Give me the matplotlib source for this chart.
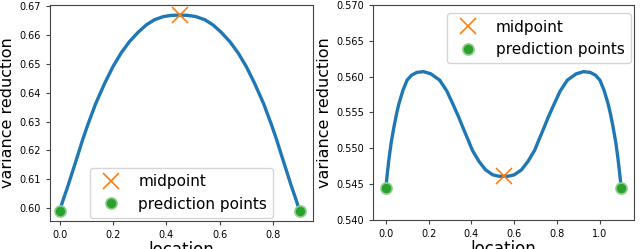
import matplotlib
matplotlib.use('Agg')
import matplotlib.pyplot as plt

# 左图: 两个预测点之间的方差降低
left_x = [0.0, 0.015, 0.031, 0.05, 0.069, 0.087, 0.106, 0.135, 0.169, 0.2,
          0.231, 0.262, 0.294, 0.325, 0.356, 0.39, 0.42, 0.45,
          0.48, 0.51, 0.544, 0.575, 0.606, 0.638, 0.669, 0.7, 0.731,
          0.765, 0.794, 0.813, 0.831, 0.85, 0.869, 0.885, 0.9]
left_y = [0.599, 0.6033, 0.6076, 0.6131, 0.6186, 0.6239, 0.6290, 0.6362, 0.6433,
          0.6491, 0.6539, 0.6578, 0.6610, 0.6636, 0.6654, 0.6665, 0.6669, 0.667,
          0.6669, 0.6665, 0.6654, 0.6636, 0.6610, 0.6578, 0.6539, 0.6491, 0.6433,
          0.6362, 0.6290, 0.6239, 0.6186, 0.6131, 0.6076, 0.6033, 0.599]
left_mid = (0.45, 0.667)
left_pred_x = [0.0, 0.9]
left_pred_y = [0.599, 0.599]

# 右图
right_x = [0.0, 0.008, 0.015, 0.025, 0.038, 0.05, 0.061, 0.08, 0.099, 0.12,
           0.145, 0.176, 0.21, 0.252, 0.285, 0.313, 0.34, 0.359, 0.38, 0.405,
           0.435, 0.466, 0.50, 0.53, 0.55,
           0.57, 0.60, 0.634, 0.665, 0.695, 0.72, 0.741, 0.76, 0.787, 0.815,
           0.848, 0.89, 0.924, 0.955, 0.98, 1.001, 1.02, 1.039, 1.05, 1.062,
           1.075, 1.085, 1.092, 1.1]
right_y = [0.5445, 0.5468, 0.5486, 0.5508, 0.5530, 0.5548, 0.5562, 0.5581, 0.5595,
           0.5602, 0.5606, 0.5607, 0.5604, 0.5595, 0.5580, 0.5562, 0.5544, 0.5530,
           0.5515, 0.5497, 0.5482, 0.5470, 0.5463, 0.5461, 0.5461,
           0.5461, 0.5463, 0.5470, 0.5482, 0.5497, 0.5515, 0.5530, 0.5544, 0.5562,
           0.5580, 0.5595, 0.5604, 0.5607, 0.5606, 0.5602, 0.5595, 0.5581, 0.5562,
           0.5548, 0.5530, 0.5508, 0.5486, 0.5468, 0.5445]
right_mid = (0.55, 0.5461)
right_pred_x = [0.0, 1.1]
right_pred_y = [0.5445, 0.5445]

fig = plt.figure(figsize=(6.4, 2.49), dpi=100)
ax1 = fig.add_axes([50/640, 28/249, 263/640, 216/249])
ax2 = fig.add_axes([373/640, 29/249, 261/640, 215/249])


def draw(ax, x, y, mid, px, py, loc, anchor):
    ax.plot(x, y, color='#1f77b4', lw=2.4, zorder=2,
            solid_joinstyle='round', solid_capstyle='round')
    ax.plot([mid[0]], [mid[1]], 'x', color='#ff7f0e', ms=11, mew=1.2,
            label='midpoint', zorder=3)
    ax.plot(px, py, 'o', color='#2ca02c', ms=8, mec='#8ccf8c', mew=1.2,
            label='prediction points', zorder=3)
    ax.set_xlabel('location', fontsize=12, labelpad=1)
    ax.set_ylabel('variance reduction', fontsize=11.5, labelpad=3)
    ax.tick_params(labelsize=7, length=3, color='#444')
    for s in ax.spines.values():
        s.set_color('#444')
    ax.legend(loc=loc, bbox_to_anchor=anchor, fontsize=11, borderaxespad=0.2)


draw(ax1, left_x, left_y, left_mid, left_pred_x, left_pred_y,
     'lower center', (0.5, 0.0))
ax1.set_ylim(0.5955, 0.6705)
ax1.set_xlim(-0.036, 0.95)
ax1.set_yticks([0.60, 0.61, 0.62, 0.63, 0.64, 0.65, 0.66, 0.67])
ax1.set_xticks([0.0, 0.2, 0.4, 0.6, 0.8])

draw(ax2, right_x, right_y, right_mid, right_pred_x, right_pred_y,
     'upper right', (1.0, 0.975))
ax2.set_ylim(0.54, 0.57)
ax2.set_xlim(-0.06, 1.16)
ax2.set_yticks([0.540, 0.545, 0.550, 0.555, 0.560, 0.565, 0.570])
ax2.set_yticklabels(['0.540', '0.545', '0.550', '0.555', '0.560', '0.565', '0.570'])

plt.savefig('out.png', dpi=100)
